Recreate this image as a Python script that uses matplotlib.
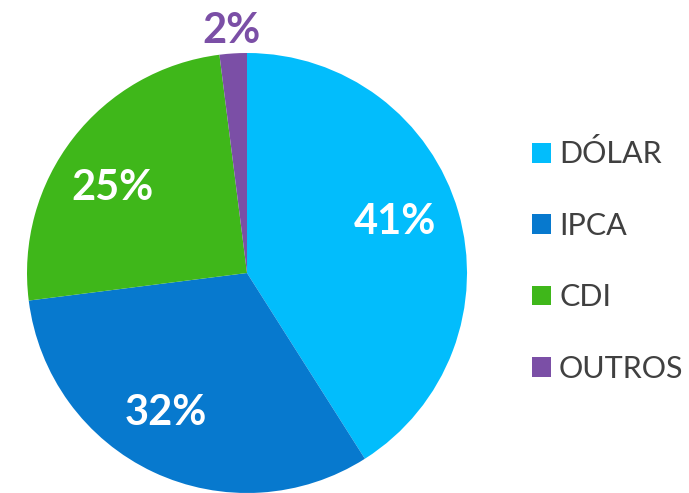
import numpy as np
import matplotlib

matplotlib.use("Agg")
import matplotlib.pyplot as plt
from matplotlib.patches import Patch

categorias = ["DÓLAR", "IPCA", "CDI", "OUTROS"]
valores = [41, 32, 25, 2]
cores = ["#02BDFC", "#0779CE", "#3FB71A", "#7B4FA6"]
rotulos = ["41%", "32%", "25%", "2%"]

plt.rcParams["font.family"] = ["Lato", "DejaVu Sans"]

fig = plt.figure(figsize=(6.89, 4.93), dpi=100)
ax = fig.add_axes([0.0392, 0.0, 0.6386, 0.8925])

wedges, _ = ax.pie(valores, colors=cores, startangle=90, counterclock=False,
                   radius=1.0, wedgeprops=dict(linewidth=0))
ax.set_xlim(-1, 1)
ax.set_ylim(-1, 1)
ax.set_aspect("equal")
ax.axis("off")

# distancia do rótulo ao centro (fração do raio), desvio angular e cor
dist = [0.71, 0.735, 0.725, 1.1]
desvio = [3, -5, 5.5, 0]
cor_txt = ["white", "white", "white", "#7B4FA6"]
for w, txt, d, dv, c in zip(wedges, rotulos, dist, desvio, cor_txt):
    ang = np.deg2rad((w.theta1 + w.theta2) / 2 + dv)
    ax.text(d * np.cos(ang), d * np.sin(ang), txt, ha="center", va="center",
            fontsize=30, fontweight="bold", color=c, clip_on=False)

handles = [Patch(facecolor=c, edgecolor="none") for c in cores]
leg = fig.legend(handles, categorias, loc="upper left",
                 bbox_to_anchor=(0.755, 0.742), frameon=False,
                 fontsize=22, handlelength=0.62, handleheight=0.62,
                 handletextpad=0.25, labelspacing=1.42, borderaxespad=0)
for t in leg.get_texts():
    t.set_color("#404040")

fig.savefig("out.png", dpi=100)
